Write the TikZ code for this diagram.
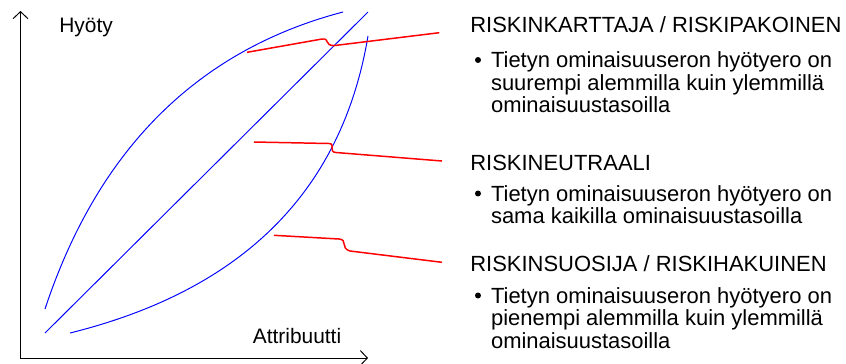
\documentclass[tikz,border=0pt]{standalone}
\usepackage{fontspec}
\setmainfont{Liberation Sans}
\usetikzlibrary{arrows.meta}

\begin{document}
\begin{tikzpicture}[x=0.02cm, y=-0.02cm, >={Straight Barb[length=4pt, width=8.5pt]}]
      \tikzstyle{every node}=[inner sep=0pt, font=\fontsize{11.9}{12.8}\selectfont]
      \tikzstyle{akseli}=[black, line width=0.55pt]
      \tikzstyle{kayra}=[blue, line width=0.55pt]
      \tikzstyle{viiva}=[red, line width=0.85pt]
      \tikzstyle{otsikko}=[anchor=base west, font=\fontsize{12.5}{12.8}\selectfont]
      \tikzstyle{kohta}=[anchor=base west, align=left, font=\fontsize{12.5}{12.8}\selectfont]
      \tikzstyle{pallo}=[circle, fill=black, minimum size=3.4pt]

      \useasboundingbox (0,0) rectangle (846,363);

      % axes
      \coordinate (ykarki) at (20.5,11);
      \coordinate (xkarki) at (368,358);
      \draw[akseli, <->] (ykarki) |- (xkarki);
      \node[anchor=base west] (hyoty) at (59,32) {Hyöty};
      \node[anchor=base west] (attr) at (252.5,343) {Attribuutti};

      % utility curves
      \coordinate (k1a) at (45,309);
      \coordinate (k1b) at (343,12);
      \coordinate (k2a) at (45,333);
      \coordinate (k2b) at (368,12);
      \coordinate (k3a) at (70,333);
      \coordinate (k3b) at (368,36);
      \draw[kayra] (k1a) .. controls (98,149) and (198,50) .. (k1b);
      \draw[kayra] (k2a) -- (k2b);
      \draw[kayra] (k3a) .. controls (243,290) and (342,191) .. (k3b);

      % legend texts (base = last line)
      \node[otsikko] (karttaja) at (470,32.7) {RISKINKARTTAJA / RISKIPAKOINEN};
      \node[pallo] (p1) at (478,60) {};
      \node[kohta] (karttaja-t) at (490.7,112.5) {Tietyn ominaisuuseron hyötyero on\\suurempi alemmilla kuin ylemmillä\\ominaisuustasoilla};

      \node[otsikko] (neutraali) at (470,170) {RISKINEUTRAALI};
      \node[pallo] (p2) at (478,193.5) {};
      \node[kohta] (neutraali-t) at (490.7,223.6) {Tietyn ominaisuuseron hyötyero on\\sama kaikilla ominaisuustasoilla};

      \node[otsikko] (suosija) at (470,271.7) {RISKINSUOSIJA / RISKIHAKUINEN};
      \node[pallo] (p3) at (478,295.5) {};
      \node[kohta] (suosija-t) at (490.7,348.2) {Tietyn ominaisuuseron hyötyero on\\pienempi alemmilla kuin ylemmillä\\ominaisuustasoilla};

      % leader lines
      \coordinate (v1a) at (247,52.3);
      \coordinate (v1b) at (439.3,32.7);
      \coordinate (v2a) at (254,142);
      \coordinate (v2b) at (442,161);
      \coordinate (v3a) at (274,235.3);
      \coordinate (v3b) at (442,262.3);
      \draw[viiva] (v1a) -- (322,39) .. controls (330,38) and (324,45.5) .. (334,45.6) -- (v1b);
      \draw[viiva] (v2a) -- (329,143.5) .. controls (336,143.7) and (328,152) .. (336,152.5) -- (v2b);
      \draw[viiva] (v3a) -- (339,239) .. controls (348,239.5) and (340,248) .. (350,251) -- (v3b);
  \end{tikzpicture}
\end{document}
